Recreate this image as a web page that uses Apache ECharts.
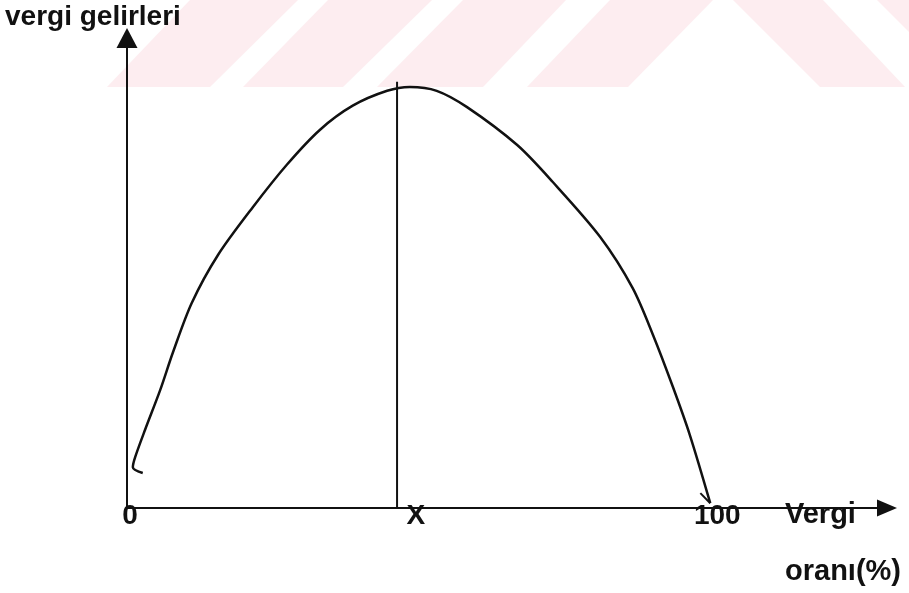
<!DOCTYPE html>
<html>
<head>
<meta charset="utf-8">
<script src="https://cdn.jsdelivr.net/npm/echarts@6/dist/echarts.min.js"></script>
<style>
  html, body { margin: 0; padding: 0; background: #fff; }
  #chart { width: 909px; height: 593px; }
</style>
</head>
<body>
<div id="chart"></div>
<script>
// Laffer egrisi: vergi orani (x) / vergi gelirleri (y)
var taxRate    = [2.7, 1.0, 1.4, 3.1, 5.7, 7.9, 11.1, 15.6, 21.6, 27.4, 33.1, 38.7, 44.6, 48.5, 53.1, 58.3, 66.9, 73.0, 81.1, 86.7, 90.2, 93.6, 96.5, 100];
var taxRevenue = [7.3, 8.5, 10.6, 16.3, 24.6, 32.5, 42.7, 52.7, 62.7, 71.5, 78.8, 83.8, 86.9, 87.7, 86.9, 83.5, 75.6, 67.9, 56.5, 45.8, 36.0, 25.2, 15.2, 1.0];

// small stroke at the end of the curve
var hookRate    = [98.3, 100];
var hookRevenue = [3.1, 1.0];

// vertical line at the optimum rate X
var optimumRate = 46.3;
var optimumTop  = 88.8;

var xTickValues = [0.5, 49.5, 101.2];
var xTickLabels = ['0', 'X', '100'];

function zip(a, b) {
    return a.map(function (v, i) { return [v, b[i]]; });
}

var dom = document.getElementById('chart');
var myChart = echarts.init(dom, null, { renderer: 'canvas' });

var ink = '#111';
var pink = '#fdedf0';
var font = '"Liberation Sans", Arial, sans-serif';

// faint watermark stripes at the top
var stripes = [
    [[190, 0], [298, 0], [210, 87], [107, 87]],
    [[328, 0], [432, 0], [343, 87], [243, 87]],
    [[463, 0], [566, 0], [483, 87], [377, 87]],
    [[610, 0], [713, 0], [628, 87], [527, 87]],
    [[733, 0], [823, 0], [905, 87], [820, 87]],
    [[877, 0], [990, 0], [1077, 87], [964, 87]]
];

var graphics = stripes.map(function (pts) {
    return {
        type: 'polygon',
        z: -10,
        silent: true,
        shape: { points: pts },
        style: { fill: pink }
    };
});

graphics.push(
    {
        type: 'text',
        left: 5,
        top: 3,
        style: { text: 'vergi gelirleri', fill: ink, font: 'bold 28px ' + font }
    },
    {
        type: 'text',
        left: 785,
        top: 500,
        style: { text: 'Vergi', fill: ink, font: 'bold 29px ' + font }
    },
    {
        type: 'text',
        left: 785,
        top: 557,
        style: { text: 'oranı(%)', fill: ink, font: 'bold 29px ' + font }
    }
);

var option = {
    animation: false,
    backgroundColor: '#fff',
    grid: { left: 127, right: 22, top: 38, bottom: 85 },
    graphic: graphics,
    xAxis: {
        type: 'value',
        min: 0,
        max: 130.3,
        axisLine: {
            show: true,
            symbol: ['none', 'triangle'],
            symbolSize: [17, 20],
            lineStyle: { color: ink, width: 2 }
        },
        axisTick: { show: false },
        splitLine: { show: false },
        axisLabel: {
            customValues: xTickValues,
            margin: 8,
            verticalAlign: 'middle',
            color: ink,
            fontSize: 28,
            fontWeight: 'bold',
            fontFamily: font,
            formatter: function (v) {
                var best = 0;
                for (var i = 1; i < xTickValues.length; i++) {
                    if (Math.abs(xTickValues[i] - v) < Math.abs(xTickValues[best] - v)) best = i;
                }
                return xTickLabels[best];
            }
        }
    },
    yAxis: {
        type: 'value',
        min: 0,
        max: 97.9,
        axisLine: {
            show: true,
            symbol: ['none', 'triangle'],
            symbolSize: [21, 20],
            lineStyle: { color: ink, width: 2 }
        },
        axisTick: { show: false },
        axisLabel: { show: false },
        splitLine: { show: false }
    },
    series: [
        {
            type: 'line',
            data: zip(taxRate, taxRevenue),
            smooth: 0.3,
            showSymbol: false,
            lineStyle: { color: ink, width: 2.5 }
        },
        {
            type: 'line',
            data: zip(hookRate, hookRevenue),
            showSymbol: false,
            lineStyle: { color: ink, width: 2 }
        },
        {
            type: 'line',
            data: [[optimumRate, 0], [optimumRate, optimumTop]],
            showSymbol: false,
            lineStyle: { color: ink, width: 2 }
        }
    ]
};

myChart.setOption(option);
window.addEventListener('resize', myChart.resize);
</script>
</body>
</html>
